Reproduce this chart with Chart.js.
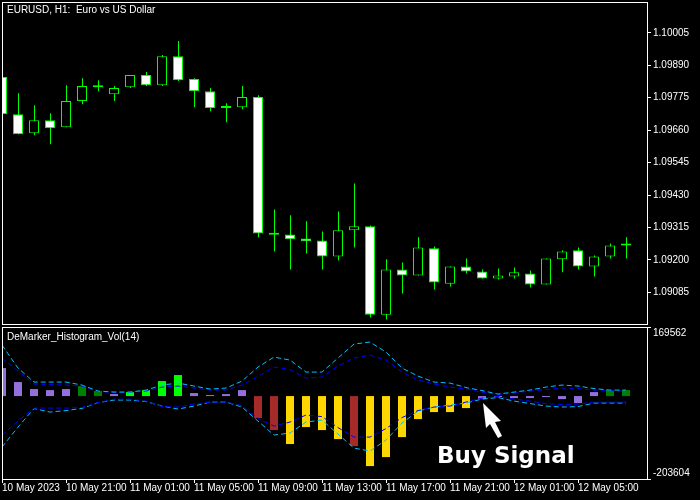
<!DOCTYPE html>
<html>
<head>
<meta charset="utf-8">
<title>EURUSD H1 - DeMarker Histogram Vol</title>
<script src="https://cdn.jsdelivr.net/npm/chart.js@4.4.1/dist/chart.umd.min.js"></script>
<style>
  html, body { margin: 0; padding: 0; background: #000; }
  #wrap { position: relative; width: 700px; height: 500px; overflow: hidden; background: #000; }
  #wrap canvas { position: absolute; left: 0; }
</style>
</head>
<body>
<div id="wrap">
  <canvas id="priceChart" width="700" height="325" style="top:0"></canvas>
  <canvas id="histChart" width="700" height="175" style="top:325px"></canvas>
</div>
<script>
// H1 bars, 10 May 2023 17:00 -> 12 May 2023 08:00 (one label every 4 bars)
const timeLabels = ["10 May 2023", "10 May 21:00", "11 May 01:00", "11 May 05:00", "11 May 09:00",
  "11 May 13:00", "11 May 17:00", "11 May 21:00", "12 May 01:00", "12 May 05:00"];
const priceTicks = [1.10005, 1.09890, 1.09775, 1.09660, 1.09545, 1.09430, 1.09315, 1.09200, 1.09085];

const opens = [1.09848, 1.09716, 1.09649, 1.09695, 1.09670, 1.09763, 1.09812, 1.09787, 1.09812, 1.09855,
  1.09819, 1.09922, 1.09841, 1.09798, 1.09745, 1.09741, 1.09777, 1.09290, 1.09290, 1.09276,
  1.09269, 1.09212, 1.09305, 1.09319, 1.09006, 1.09166, 1.09145, 1.09241, 1.09116, 1.09177,
  1.09159, 1.09134, 1.09141, 1.09152, 1.09113, 1.09202, 1.09234, 1.09177, 1.09212, 1.09251];
const highs = [1.09850, 1.09791, 1.09748, 1.09720, 1.09819, 1.09844, 1.09837, 1.09816, 1.09855, 1.09866,
  1.09926, 1.09976, 1.09844, 1.09809, 1.09755, 1.09816, 1.09784, 1.09379, 1.09358, 1.09337,
  1.09301, 1.09372, 1.09471, 1.09322, 1.09202, 1.09191, 1.09280, 1.09248, 1.09177, 1.09205,
  1.09166, 1.09170, 1.09173, 1.09163, 1.09205, 1.09234, 1.09244, 1.09216, 1.09258, 1.09280];
const lows = [1.09716, 1.09645, 1.09642, 1.09610, 1.09670, 1.09752, 1.09798, 1.09763, 1.09809, 1.09816,
  1.09816, 1.09834, 1.09741, 1.09727, 1.09688, 1.09734, 1.09280, 1.09230, 1.09166, 1.09223,
  1.09166, 1.09198, 1.09244, 1.08996, 1.08989, 1.09081, 1.09145, 1.09095, 1.09106, 1.09152,
  1.09134, 1.09131, 1.09134, 1.09102, 1.09113, 1.09156, 1.09166, 1.09141, 1.09205, 1.09205];
const closes = [1.09716, 1.09645, 1.09695, 1.09667, 1.09763, 1.09816, 1.09812, 1.09809, 1.09855, 1.09819,
  1.09922, 1.09837, 1.09798, 1.09738, 1.09738, 1.09777, 1.09294, 1.09289, 1.09273, 1.09266,
  1.09212, 1.09305, 1.09319, 1.09006, 1.09166, 1.09145, 1.09244, 1.09120, 1.09177, 1.09159,
  1.09134, 1.09145, 1.09156, 1.09113, 1.09205, 1.09230, 1.09177, 1.09212, 1.09251, 1.09258];

// DeMarker_Histogram_Vol(14)
const histMax = 169562;
const histMin = -203604;
const histValues = [68700, 34400, 17200, 14700, 17200, 24500, 12300, 4900, 9800, 14700,
  36800, 51600, 7400, 2500, 4900, 14700, -54000, -83500, -117800, -76100,
  -83500, -105600, -122800, -171900, -149800, -100700, -56500, -39300, -39300, -29500,
  -7400, -2500, -4900, -4900, -2500, -7400, -17200, 9800, 14700, 14700];
const histState = ["flat", "flat", "flat", "flat", "flat", "upDark", "upDark", "flat", "upLime", "upLime",
  "upLime", "upLime", "flat", "flat", "flat", "flat", "downBrown", "downBrown", "downGold", "downGold",
  "downGold", "downGold", "downBrown", "downGold", "downGold", "downGold", "downGold", "downGold", "downGold", "downGold",
  "flat", "flat", "flat", "flat", "flat", "flat", "flat", "flat", "upDark", "upDark"];
const upperOuter = [125200, 68700, 34400, 34400, 34400, 27000, 12300, 9800, 9800, 14700,
  27000, 31900, 24600, 17200, 19600, 36800, 71200, 95700, 88400, 58900,
  58900, 93300, 127700, 132600, 108000, 68700, 49100, 34400, 31900, 20900,
  13500, 4900, 9800, 14700, 22100, 27000, 24600, 18400, 14700, 14700];
const upperInner = [93300, 61400, 29500, 28200, 27000, 24600, 11000, 9800, 9800, 12300,
  22100, 24600, 19600, 14700, 14700, 27000, 47900, 71200, 65100, 44200,
  46600, 73700, 93300, 100700, 88400, 58900, 39300, 29500, 22100, 17200,
  9800, 3700, 7400, 12300, 16000, 19600, 18400, 14700, 13500, 12300];
const lowerInner = [-95700, -61400, -29500, -29500, -29500, -28000, -16200, -7400, -7400, -12300,
  -25800, -27000, -19600, -14700, -14700, -23300, -55200, -73700, -63800, -46600,
  -50400, -77300, -100700, -100700, -79800, -52800, -35600, -27000, -24600, -14700,
  -4900, -1200, -7400, -12300, -18400, -20900, -19600, -14700, -14700, -14700];
const lowerOuter = [-125200, -76100, -30700, -39300, -35600, -30200, -16200, -9800, -9800, -13500,
  -24600, -31900, -24600, -14700, -14700, -27000, -61400, -95700, -90800, -63800,
  -58900, -93300, -127700, -135000, -108000, -66300, -36800, -27000, -22100, -17200,
  -7400, -3700, -12300, -18400, -24600, -27000, -25800, -17200, -17200, -17200];
const signalIndex = 30;
const signalLevel = -17000;

const stateColors = {
  flat: "#9370db",
  upDark: "#008000",
  upLime: "#00ff00",
  downBrown: "#a52a2a",
  downGold: "#ffd700",
};
const candleColor = "#00ff00";

Chart.defaults.font.family = "'Liberation Sans', Arial, sans-serif";
Chart.defaults.font.size = 10;
Chart.defaults.color = "#ffffff";

// 16 px per bar across the 645 px wide plot
const barSpacing = 16;
const xMax = 645 / barSpacing;
const halfPixel = 0.5 / barSpacing;
const indices = opens.map((_, i) => i);

// white box around each pane plus the pane caption
const framePlugin = {
  id: "frame",
  afterDraw(chart, args, opts) {
    const a = chart.chartArea;
    const ctx = chart.ctx;
    ctx.save();
    ctx.strokeStyle = "#ffffff";
    ctx.lineWidth = 1;
    ctx.strokeRect(a.left + 0.5, a.top + 0.5, a.right - a.left, a.bottom - a.top);
    ctx.fillStyle = "#ffffff";
    ctx.font = "10px 'Liberation Sans', Arial, sans-serif";
    ctx.textBaseline = "alphabetic";
    ctx.fillText(opts.caption, a.left + 5, a.top + opts.captionOffset);
    ctx.restore();
  },
};

// "Buy Signal" note, anchored on the signal bar
const signalPlugin = {
  id: "signal",
  afterDatasetsDraw(chart) {
    const tx = chart.scales.x.getPixelForValue(signalIndex) + 1;
    const ty = chart.scales.y.getPixelForValue(signalLevel);
    const ctx = chart.ctx;
    const shape = [[0, 0], [3, 25], [7, 21], [15, 35], [19, 33], [12, 19], [18, 18]];
    ctx.save();
    ctx.fillStyle = "#ffffff";
    ctx.beginPath();
    shape.forEach(([dx, dy], k) => (k ? ctx.lineTo(tx + dx, ty + dy) : ctx.moveTo(tx + dx, ty + dy)));
    ctx.closePath();
    ctx.fill();
    ctx.font = "bold 23px 'DejaVu Sans', Verdana, sans-serif";
    ctx.textBaseline = "alphabetic";
    ctx.fillText("Buy Signal", tx - 46, ty + 60);
    ctx.restore();
  },
};

function rightAxisFit(scale) {
  scale.width = 53;
  scale.paddingTop = 0;
  scale.paddingBottom = 0;
}

// Price pane
new Chart(document.getElementById("priceChart"), {
  type: "bar",
  data: {
    datasets: [
      {
        label: "Body",
        data: indices.map((i) => ({ x: i, y: [opens[i], closes[i]] })),
        backgroundColor: (ctx) => (closes[ctx.dataIndex] < opens[ctx.dataIndex] ? "#ffffff" : "#000000"),
        borderColor: candleColor,
        borderWidth: 1,
        borderSkipped: false,
        barThickness: 10,
        minBarLength: 2,
        inflateAmount: 0,
        grouped: false,
        order: 1,
      },
      {
        label: "Wick",
        xAxisID: "xw",
        data: indices.map((i) => ({ x: i, y: [lows[i], highs[i]] })),
        backgroundColor: candleColor,
        borderWidth: 0,
        barThickness: 1,
        inflateAmount: 0,
        grouped: false,
        order: 2,
      },
    ],
  },
  options: {
    responsive: false,
    animation: false,
    events: [],
    devicePixelRatio: 1,
    layout: { padding: { left: 2, top: 2, right: 0, bottom: 1 } },
    scales: {
      x: { type: "linear", display: false, offset: false, min: 0, max: xMax },
      xw: { type: "linear", display: false, offset: false, min: -halfPixel, max: xMax - halfPixel },
      y: {
        position: "right",
        min: 1.08973,
        max: 1.10114,
        afterFit: rightAxisFit,
        afterBuildTicks: (scale) => {
          scale.ticks = priceTicks.map((v) => ({ value: v }));
        },
        border: { display: false },
        grid: { drawOnChartArea: false, drawTicks: true, tickLength: 4, color: "#ffffff" },
        ticks: {
          padding: 2,
          autoSkip: false,
          color: "#ffffff",
          callback: (v) => Number(v).toFixed(5),
        },
      },
    },
    plugins: {
      legend: { display: false },
      tooltip: { enabled: false },
      frame: { caption: "EURUSD, H1:  Euro vs US Dollar", captionOffset: 11 },
    },
  },
  plugins: [framePlugin],
});

function bandLine(label, values, color) {
  return {
    type: "line",
    label: label,
    data: values.map((v, i) => ({ x: i, y: v })),
    borderColor: color,
    borderWidth: 1,
    borderDash: [5, 3],
    pointRadius: 0,
    fill: false,
    tension: 0,
    order: 1,
  };
}

// Indicator pane
new Chart(document.getElementById("histChart"), {
  type: "bar",
  data: {
    datasets: [
      bandLine("Upper outer", upperOuter, "#00bfff"),
      bandLine("Upper inner", upperInner, "#0000ff"),
      bandLine("Lower inner", lowerInner, "#0000ff"),
      bandLine("Lower outer", lowerOuter, "#00bfff"),
      {
        label: "DeMarker histogram",
        data: histValues.map((v, i) => ({ x: i, y: v })),
        backgroundColor: histState.map((s) => stateColors[s]),
        borderWidth: 0,
        barThickness: 8,
        inflateAmount: 0,
        grouped: false,
        order: 2,
      },
    ],
  },
  options: {
    responsive: false,
    animation: false,
    events: [],
    devicePixelRatio: 1,
    layout: { padding: { left: 2, top: 2, right: 0, bottom: 0 } },
    scales: {
      x: {
        type: "linear",
        offset: false,
        min: 0,
        max: xMax,
        afterFit: (scale) => {
          scale.height = 21;
          scale.paddingLeft = 0;
          scale.paddingRight = 0;
        },
        afterBuildTicks: (scale) => {
          scale.ticks = timeLabels.map((_, k) => ({ value: k * 4 }));
        },
        border: { display: false },
        grid: { offset: false, drawOnChartArea: false, drawTicks: true, tickLength: 4, color: "#ffffff" },
        ticks: {
          align: "start",
          padding: 0,
          maxRotation: 0,
          autoSkip: false,
          color: "#ffffff",
          font: { lineHeight: 1 },
          callback: (v, k) => timeLabels[k],
        },
      },
      y: {
        position: "right",
        min: histMin,
        max: histMax,
        afterFit: rightAxisFit,
        afterBuildTicks: (scale) => {
          scale.ticks = [{ value: histMax }, { value: histMin }];
        },
        border: { display: false },
        grid: { drawOnChartArea: false, drawTicks: true, tickLength: 4, color: "#ffffff" },
        ticks: {
          padding: 2,
          autoSkip: false,
          color: "#ffffff",
          // max label sits just below the top edge, min label just above the bottom edge
          callback: (v) => (v === histMax ? ["", String(v)] : [String(v), ""]),
        },
      },
    },
    plugins: {
      legend: { display: false },
      tooltip: { enabled: false },
      frame: { caption: "DeMarker_Histogram_Vol(14)", captionOffset: 13 },
    },
  },
  plugins: [framePlugin, signalPlugin],
});
</script>
</body>
</html>
